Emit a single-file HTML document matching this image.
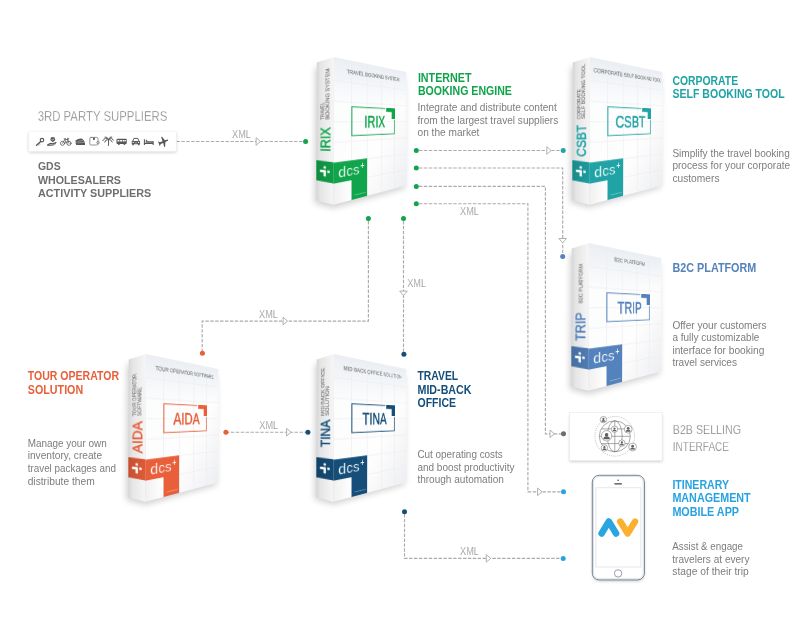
<!DOCTYPE html>
<html><head><meta charset="utf-8"><title>dcs plus product diagram</title>
<style>
html,body{margin:0;padding:0;background:#fff}
body{width:812px;height:631px;position:relative;overflow:hidden;font-family:"Liberation Sans", sans-serif}
#main{position:absolute;left:0;top:0;will-change:transform}
.box{position:absolute;width:0;height:0}
.face{position:absolute;left:0;top:0;transform-origin:0 0;overflow:hidden}
.face svg{display:block}
</style></head><body>
<svg id="main" width="812" height="631" viewBox="0 0 812 631" font-family='"Liberation Sans", sans-serif'><defs><filter id="blur" x="-20%" y="-20%" width="140%" height="140%"><feGaussianBlur stdDeviation="3"/></filter><filter id="blur2" x="-20%" y="-40%" width="140%" height="180%"><feGaussianBlur stdDeviation="1.6"/></filter></defs>
<polygon points="315.4,67.2 404.4,77.2 404.9,188.2 333.5,208.2 314.4,203.2" fill="#000" opacity="0.18" filter="url(#blur)"/>
<polygon points="571.1,66.6 660.1,76.6 660.6,187.6 589.2,207.6 570.1,202.6" fill="#000" opacity="0.18" filter="url(#blur)"/>
<polygon points="570.3,253.2 659.3,263.2 659.8,374.2 588.4,394.2 569.3,389.2" fill="#000" opacity="0.18" filter="url(#blur)"/>
<polygon points="127.1,364.0 216.1,374.0 216.6,485.0 145.2,505.0 126.1,500.0" fill="#000" opacity="0.18" filter="url(#blur)"/>
<polygon points="315.4,363.5 404.4,373.5 404.9,484.5 333.5,504.5 314.4,499.5" fill="#000" opacity="0.18" filter="url(#blur)"/>
<path d="M176.5 141.5H303" fill="none" stroke="#ababab" stroke-width="1.15" stroke-dasharray="3.4 1.5"/>
<path d="M256.1 137.7L260.5 141.5L256.1 145.3Z" fill="#fff" stroke="#a9a9a9" stroke-width="0.9"/>
<text x="232.00" y="137.70" font-size="10.3" fill="#7e7e7e" textLength="18.90" lengthAdjust="spacingAndGlyphs" stroke="#fff" stroke-width="0.25">XML</text>
<circle cx="305.6" cy="141.5" r="2.5" fill="#10a54b"/>
<path d="M368.4 221V321.1H202.2V351" fill="none" stroke="#ababab" stroke-width="1.15" stroke-dasharray="3.4 1.5"/>
<path d="M283.1 317.3L287.5 321.1L283.1 324.90000000000003Z" fill="#fff" stroke="#a9a9a9" stroke-width="0.9"/>
<text x="259.00" y="317.50" font-size="10.3" fill="#7e7e7e" textLength="18.90" lengthAdjust="spacingAndGlyphs" stroke="#fff" stroke-width="0.25">XML</text>
<circle cx="368.4" cy="218.5" r="2.5" fill="#10a54b"/>
<circle cx="202.4" cy="353.2" r="2.5" fill="#e85f3a"/>
<path d="M403.5 221V352" fill="none" stroke="#ababab" stroke-width="1.15" stroke-dasharray="3.4 1.5"/>
<path d="M399.7 291.1L403.5 295.5L407.3 291.1Z" fill="#fff" stroke="#a9a9a9" stroke-width="0.9"/>
<text x="407.20" y="286.90" font-size="10.3" fill="#7e7e7e" textLength="18.90" lengthAdjust="spacingAndGlyphs" stroke="#fff" stroke-width="0.25">XML</text>
<circle cx="403.5" cy="218.5" r="2.5" fill="#10a54b"/>
<circle cx="403.9" cy="354.3" r="2.5" fill="#144e79"/>
<path d="M419 150.5H561" fill="none" stroke="#ababab" stroke-width="1.15" stroke-dasharray="3.4 1.5"/>
<path d="M546.8000000000001 146.7L551.2 150.5L546.8000000000001 154.3Z" fill="#fff" stroke="#a9a9a9" stroke-width="0.9"/>
<circle cx="416.3" cy="150.5" r="2.5" fill="#10a54b"/>
<circle cx="563.2" cy="150.5" r="2.5" fill="#1fa3a4"/>
<path d="M419 168H562.7V254" fill="none" stroke="#ababab" stroke-width="1.15" stroke-dasharray="3.4 1.5"/>
<path d="M558.9000000000001 238.5L562.7 242.9L566.5 238.5Z" fill="#fff" stroke="#a9a9a9" stroke-width="0.9"/>
<circle cx="416.3" cy="168" r="2.5" fill="#10a54b"/>
<circle cx="562.7" cy="256.5" r="2.5" fill="#5382bc"/>
<path d="M419 186.4H545.4V433.8H561" fill="none" stroke="#ababab" stroke-width="1.15" stroke-dasharray="3.4 1.5"/>
<path d="M550.0 430.0L554.4 433.8L550.0 437.6Z" fill="#fff" stroke="#a9a9a9" stroke-width="0.9"/>
<circle cx="416.3" cy="186.4" r="2.5" fill="#10a54b"/>
<circle cx="563.5" cy="433.8" r="2.5" fill="#6b6b6b"/>
<path d="M419 203.7H527.9V491.8H561" fill="none" stroke="#ababab" stroke-width="1.15" stroke-dasharray="3.4 1.5"/>
<path d="M537.6 488.0L542.0 491.8L537.6 495.6Z" fill="#fff" stroke="#a9a9a9" stroke-width="0.9"/>
<text x="460.00" y="214.60" font-size="10.3" fill="#7e7e7e" textLength="18.90" lengthAdjust="spacingAndGlyphs" stroke="#fff" stroke-width="0.25">XML</text>
<circle cx="416.3" cy="203.7" r="2.5" fill="#10a54b"/>
<circle cx="563.5" cy="491.8" r="2.5" fill="#27a3e1"/>
<path d="M226 432.2H306" fill="none" stroke="#ababab" stroke-width="1.15" stroke-dasharray="3.4 1.5"/>
<path d="M286.6 428.4L291.0 432.2L286.6 436.0Z" fill="#fff" stroke="#a9a9a9" stroke-width="0.9"/>
<text x="259.30" y="429.00" font-size="10.3" fill="#7e7e7e" textLength="18.90" lengthAdjust="spacingAndGlyphs" stroke="#fff" stroke-width="0.25">XML</text>
<circle cx="225.9" cy="432.2" r="2.5" fill="#e85f3a"/>
<circle cx="307.9" cy="432.2" r="2.5" fill="#144e79"/>
<path d="M404.5 514V558.4H561" fill="none" stroke="#ababab" stroke-width="1.15" stroke-dasharray="3.4 1.5"/>
<path d="M486.3 554.6L490.7 558.4L486.3 562.1999999999999Z" fill="#fff" stroke="#a9a9a9" stroke-width="0.9"/>
<text x="460.00" y="555.20" font-size="10.3" fill="#7e7e7e" textLength="18.90" lengthAdjust="spacingAndGlyphs" stroke="#fff" stroke-width="0.25">XML</text>
<circle cx="404.5" cy="511.7" r="2.5" fill="#144e79"/>
<circle cx="563.2" cy="558.4" r="2.5" fill="#27a3e1"/>
<text x="37.70" y="120.80" font-size="14.3" fill="#7b7b7b" textLength="129.60" lengthAdjust="spacingAndGlyphs" stroke="#fff" stroke-width="0.35">3RD PARTY SUPPLIERS</text>
<rect x="28.6" y="133" width="147.8" height="19.6" rx="1.5" fill="#000" opacity="0.2" filter="url(#blur2)"/>
<rect x="28.6" y="131.2" width="147.8" height="20.4" rx="1" fill="#fff" stroke="#ececec" stroke-width="0.6"/>
<text x="38.00" y="170.30" font-size="11.8" fill="#6e6e6e" font-weight="bold" textLength="22.60" lengthAdjust="spacingAndGlyphs">GDS</text>
<text x="38.00" y="183.80" font-size="11.8" fill="#6e6e6e" font-weight="bold" textLength="83.00" lengthAdjust="spacingAndGlyphs">WHOLESALERS</text>
<text x="38.00" y="197.30" font-size="11.8" fill="#6e6e6e" font-weight="bold" textLength="113.30" lengthAdjust="spacingAndGlyphs">ACTIVITY SUPPLIERS</text>
<text x="417.90" y="82.05" font-size="12.2" fill="#10a54b" font-weight="bold" textLength="53.60" lengthAdjust="spacingAndGlyphs">INTERNET</text><text x="417.90" y="95.35" font-size="12.2" fill="#10a54b" font-weight="bold" textLength="94.00" lengthAdjust="spacingAndGlyphs">BOOKING ENGINE</text>
<text x="417.50" y="111.20" font-size="10.7" fill="#7d7d7d" textLength="139.30" lengthAdjust="spacingAndGlyphs">Integrate and distribute content</text><text x="417.50" y="123.82" font-size="10.7" fill="#7d7d7d" textLength="140.70" lengthAdjust="spacingAndGlyphs">from the largest travel suppliers</text><text x="417.50" y="136.44" font-size="10.7" fill="#7d7d7d" textLength="61.90" lengthAdjust="spacingAndGlyphs">on the market</text>
<text x="672.50" y="84.75" font-size="12.2" fill="#1fa3a4" font-weight="bold" textLength="65.60" lengthAdjust="spacingAndGlyphs">CORPORATE</text><text x="672.50" y="98.05" font-size="12.2" fill="#1fa3a4" font-weight="bold" textLength="112.20" lengthAdjust="spacingAndGlyphs">SELF BOOKING TOOL</text>
<text x="672.40" y="156.80" font-size="10.7" fill="#7d7d7d" textLength="117.40" lengthAdjust="spacingAndGlyphs">Simplify the travel booking</text><text x="672.40" y="169.42" font-size="10.7" fill="#7d7d7d" textLength="117.80" lengthAdjust="spacingAndGlyphs">process for your corporate</text><text x="672.40" y="182.04" font-size="10.7" fill="#7d7d7d" textLength="47.10" lengthAdjust="spacingAndGlyphs">customers</text>
<text x="672.50" y="272.45" font-size="12.2" fill="#5382bc" font-weight="bold" textLength="83.80" lengthAdjust="spacingAndGlyphs">B2C PLATFORM</text>
<text x="672.40" y="328.60" font-size="10.7" fill="#7d7d7d" textLength="94.10" lengthAdjust="spacingAndGlyphs">Offer your customers</text><text x="672.40" y="341.22" font-size="10.7" fill="#7d7d7d" textLength="87.00" lengthAdjust="spacingAndGlyphs">a fully customizable</text><text x="672.40" y="353.84" font-size="10.7" fill="#7d7d7d" textLength="91.90" lengthAdjust="spacingAndGlyphs">interface for booking</text><text x="672.40" y="366.46" font-size="10.7" fill="#7d7d7d" textLength="64.60" lengthAdjust="spacingAndGlyphs">travel services</text>
<text x="672.80" y="434.30" font-size="12.6" fill="#787878" textLength="68.20" lengthAdjust="spacingAndGlyphs" stroke="#fff" stroke-width="0.25">B2B SELLING</text>
<text x="672.80" y="450.90" font-size="12.6" fill="#787878" textLength="56.20" lengthAdjust="spacingAndGlyphs" stroke="#fff" stroke-width="0.25">INTERFACE</text>
<text x="672.40" y="488.95" font-size="12.2" fill="#27a3e1" font-weight="bold" textLength="56.60" lengthAdjust="spacingAndGlyphs">ITINERARY</text><text x="672.40" y="502.25" font-size="12.2" fill="#27a3e1" font-weight="bold" textLength="78.30" lengthAdjust="spacingAndGlyphs">MANAGEMENT</text><text x="672.40" y="515.55" font-size="12.2" fill="#27a3e1" font-weight="bold" textLength="66.60" lengthAdjust="spacingAndGlyphs">MOBILE APP</text>
<text x="672.30" y="550.20" font-size="10.7" fill="#7d7d7d" textLength="70.70" lengthAdjust="spacingAndGlyphs">Assist &amp; engage</text><text x="672.30" y="562.82" font-size="10.7" fill="#7d7d7d" textLength="77.20" lengthAdjust="spacingAndGlyphs">travelers at every</text><text x="672.30" y="575.44" font-size="10.7" fill="#7d7d7d" textLength="76.40" lengthAdjust="spacingAndGlyphs">stage of their trip</text>
<text x="27.80" y="380.25" font-size="12.2" fill="#e85f3a" font-weight="bold" textLength="91.30" lengthAdjust="spacingAndGlyphs">TOUR OPERATOR</text><text x="27.80" y="393.55" font-size="12.2" fill="#e85f3a" font-weight="bold" textLength="55.40" lengthAdjust="spacingAndGlyphs">SOLUTION</text>
<text x="27.70" y="446.80" font-size="10.7" fill="#7d7d7d" textLength="79.00" lengthAdjust="spacingAndGlyphs">Manage your own</text><text x="27.70" y="459.42" font-size="10.7" fill="#7d7d7d" textLength="74.40" lengthAdjust="spacingAndGlyphs">inventory, create</text><text x="27.70" y="472.04" font-size="10.7" fill="#7d7d7d" textLength="88.30" lengthAdjust="spacingAndGlyphs">travel packages and</text><text x="27.70" y="484.66" font-size="10.7" fill="#7d7d7d" textLength="67.00" lengthAdjust="spacingAndGlyphs">distribute them</text>
<text x="417.50" y="380.25" font-size="12.2" fill="#144e79" font-weight="bold" textLength="40.70" lengthAdjust="spacingAndGlyphs">TRAVEL</text><text x="417.50" y="393.55" font-size="12.2" fill="#144e79" font-weight="bold" textLength="54.00" lengthAdjust="spacingAndGlyphs">MID-BACK</text><text x="417.50" y="406.85" font-size="12.2" fill="#144e79" font-weight="bold" textLength="38.50" lengthAdjust="spacingAndGlyphs">OFFICE</text>
<text x="417.40" y="457.90" font-size="10.7" fill="#7d7d7d" textLength="85.40" lengthAdjust="spacingAndGlyphs">Cut operating costs</text><text x="417.40" y="470.52" font-size="10.7" fill="#7d7d7d" textLength="97.20" lengthAdjust="spacingAndGlyphs">and boost productivity</text><text x="417.40" y="483.14" font-size="10.7" fill="#7d7d7d" textLength="86.50" lengthAdjust="spacingAndGlyphs">through automation</text>
<rect x="569.6" y="415" width="92.6" height="46.8" fill="#000" opacity="0.2" filter="url(#blur2)"/>
<rect x="569.5" y="412.4" width="92.7" height="48.2" fill="#fff" stroke="#e9e9e9" stroke-width="0.6"/>
<g fill="none" stroke="#707070" stroke-width=".6"><circle cx="614.8" cy="436.3" r="19.8" stroke-dasharray=".9 1.2" stroke="#8a8a8a"/><circle cx="614.8" cy="436.3" r="15.5" fill="#fff"/><ellipse cx="614.8" cy="436.3" rx="7.4" ry="15.5"/><path d="M614.8 420.8V451.8M599.3 436.3H630.3M601.1999999999999 428.9H628.4M601.1999999999999 443.6H628.4"/></g><circle cx="603.4" cy="419.6" r="3.2" fill="#fff" stroke="#707070" stroke-width=".55"/><circle cx="603.4" cy="418.90" r="1.09" fill="#606060"/><path d="M601.42 421.71q0-1.76 1.98-1.76q1.98 0 1.98 1.76z" fill="#606060"/><circle cx="614.5" cy="429.2" r="3.2" fill="#fff" stroke="#707070" stroke-width=".55"/><circle cx="614.5" cy="428.50" r="1.09" fill="#606060"/><path d="M612.52 431.31q0-1.76 1.98-1.76q1.98 0 1.98 1.76z" fill="#606060"/><circle cx="628.2" cy="429.2" r="3.9" fill="#fff" stroke="#707070" stroke-width=".55"/><circle cx="628.2" cy="428.34" r="1.33" fill="#606060"/><path d="M625.78 431.77q0-2.15 2.42-2.15q2.42 0 2.42 2.15z" fill="#606060"/><circle cx="606.6" cy="435.8" r="5.2" fill="#fff" stroke="#707070" stroke-width=".55"/><circle cx="606.6" cy="434.66" r="1.77" fill="#606060"/><path d="M603.38 439.23q0-2.86 3.22-2.86q3.22 0 3.22 2.86z" fill="#606060"/><circle cx="621.9" cy="443.1" r="3.2" fill="#fff" stroke="#707070" stroke-width=".55"/><circle cx="621.9" cy="442.40" r="1.09" fill="#606060"/><path d="M619.92 445.21q0-1.76 1.98-1.76q1.98 0 1.98 1.76z" fill="#606060"/><circle cx="604.4" cy="447.9" r="3.2" fill="#fff" stroke="#707070" stroke-width=".55"/><circle cx="604.4" cy="447.20" r="1.09" fill="#606060"/><path d="M602.42 450.01q0-1.76 1.98-1.76q1.98 0 1.98 1.76z" fill="#606060"/><circle cx="632.6" cy="447.0" r="3.9" fill="#fff" stroke="#707070" stroke-width=".55"/><circle cx="632.6" cy="446.14" r="1.33" fill="#606060"/><path d="M630.18 449.57q0-2.15 2.42-2.15q2.42 0 2.42 2.15z" fill="#606060"/>
<rect x="592.6" y="476.6" width="51.8" height="104.6" rx="7" fill="#000" opacity=".22" filter="url(#blur2)"/><rect x="592.3" y="475.3" width="52.1" height="104.6" rx="6.8" fill="#fff" stroke="#56647a" stroke-width=".8"/><rect x="593.5" y="476.5" width="49.7" height="102.2" rx="5.6" fill="none" stroke="#c9cfd8" stroke-width=".6"/><rect x="595.9" y="487.8" width="44.9" height="79.2" fill="#fff" stroke="#dcdcdc" stroke-width=".7"/><rect x="614.2" y="483.2" width="7.8" height="1.3" rx=".65" fill="#3c4656"/><circle cx="618.1" cy="480.2" r=".75" fill="#3c4656"/><circle cx="618.1" cy="573.4" r="3.7" fill="#fff" stroke="#6b7686" stroke-width=".7"/><path d="M601.6 533.5L608.8 521.5L616.1 533.5" fill="none" stroke="#2aa5e0" stroke-width="6.5" stroke-linecap="round" stroke-linejoin="round"/><path d="M620.3 521.6L627.7 533.4L635 521.6" fill="none" stroke="#fbb030" stroke-width="6.5" stroke-linecap="round" stroke-linejoin="round"/>
<g fill="none" stroke="#575757" stroke-linecap="round" stroke-linejoin="round"><circle cx="42" cy="140.1" r="1.75" stroke-width="1.15"/><path d="M40.7 141.5L36.5 145.3" stroke-width="1.35"/><path d="M37.7 144.3l.8 .9M38.8 143.3l.8 .9" stroke-width=".7"/><path d="M52.8 136.9a2.45 2.45 0 0 1 2.45 2.45c0 1.4-1.5 2.1-2.45 2.9c-.95-.8-2.45-1.5-2.45-2.9a2.45 2.45 0 0 1 2.45-2.45z" fill="#575757" stroke="none"/><path d="M51.7 139.3l.9 .9l1.4-1.5" stroke="#fff" stroke-width=".6"/><path d="M47.6 145.1L50.2 143.5L53 143.9L55.9 142.5" stroke-width="1.35"/><path d="M48.6 145.6L53.2 145.2L55.6 143.6" stroke-width=".8"/><circle cx="62.5" cy="143.3" r="2.05" stroke-width=".8"/><circle cx="69" cy="143.3" r="2.05" stroke-width=".8"/><path d="M62.5 143.3L64.9 139.5H67.9L69 143.3M64.9 139.5L66 143.3L67.9 139.5M64.1 138.7H65.7M67.4 138.4H68.7L67.9 139.5" stroke-width=".75"/><path d="M108.5 140.6Q108.9 143 108.4 145.5" stroke-width="1"/><path d="M108.5 139.4Q105.2 136.3 102.8 140.7M108.5 139.6Q105.8 138.6 104.7 142.2M108.5 139.3Q107.2 136.4 105 137M108.5 139.4Q111.8 136.3 113.2 140.2M108.5 139.6Q111.2 138.8 112.2 142M108.5 139.3Q109.8 136.2 111.8 136.9" stroke-width=".95"/><path d="M144.4 139.2V144.9M144.4 143.4H153.2M153.2 141.2V144.9" stroke-width="1.05" stroke-linecap="butt"/><path d="M145.6 142H153" stroke-width="1.5" stroke-linecap="butt"/><circle cx="146.5" cy="140.5" r=".75" fill="#575757" stroke="none"/><rect x="89.8" y="137.4" width="8.2" height="7.6" rx="1.3" stroke-width=".7" stroke="#6a6a6a"/><path d="M132.8 141.2L133.9 138.4H137.9L139 141.2" stroke-width=".95"/></g><g fill="#575757"><path d="M74.9 140.9Q79.5 137.8 82.2 138.8Q84.2 140.2 85 143.2V145.1H76.3L75.3 142.5L77 142.2z"/><path d="M77.6 141.4L83.2 140.3M77.4 142.9L84.2 142.2" stroke="#fff" stroke-width=".35"/><rect x="93.1" y="137.4" width="1.7" height="2.6"/><circle cx="98.1" cy="142.6" r="1.7" fill="#fff"/><circle cx="98.1" cy="142.6" r="1.25" fill="none" stroke="#575757" stroke-width=".7"/><circle cx="98.1" cy="142.6" r=".45"/><rect x="116.5" y="138.8" width="10.3" height="5.2" rx="1.1"/><circle cx="118.9" cy="144.1" r=".95"/><circle cx="124.4" cy="144.1" r=".95"/><path d="M117.5 140h1.9v1.6h-1.9zM120.1 140h1.9v1.6h-1.9zM122.7 140h1.9v1.6h-1.9zM125.2 140h.9v1.6h-.9z" fill="#fff"/><rect x="131.7" y="140.9" width="8.4" height="3.4" rx=".9"/><rect x="132.2" y="144" width="1.6" height="1.3" rx=".3"/><rect x="138" y="144" width="1.6" height="1.3" rx=".3"/><circle cx="133.2" cy="142.4" r=".6" fill="#fff"/><circle cx="138.6" cy="142.4" r=".6" fill="#fff"/><path d="M134.6 142.9h2.6" stroke="#fff" stroke-width=".5"/><path d="M167.7 139.5L164.9 140.3L162 136.8L161.1 137.1L162.6 141.3L159.9 142.3L158.7 141.4L158 141.8L158.9 143.6L159.5 145.9L160.2 145.6L160.6 143.9L163.2 142.9L164.2 146.9L165.1 146.7L165.4 142L167.9 140.7Q168.6 139.6 167.7 139.5z"/></g></svg>
<div class="box" style="left:333.9px;top:57.2px"><div class="face" style="width:19px;height:147px;transform:matrix3d(0.91052632,-0.28947368,0,-0.0034786532,-0.0025214668,0.93168198,0,-4.9432232e-05,0,0,1,0,-17.3,5.5,0,1)"><svg width="19" height="147" viewBox="0 0 19 147" font-family='"Liberation Sans", sans-serif'><defs><linearGradient id="sfg0" x1="0" y1="0" x2="1" y2="0"><stop offset="0" stop-color="#d6d6d7"/><stop offset="0.25" stop-color="#e5e5e6"/><stop offset="1" stop-color="#f6f6f7"/></linearGradient><linearGradient id="sgg0" x1="0" y1="0" x2="1" y2="0"><stop offset="0" stop-color="#000" stop-opacity="0.16"/><stop offset="1" stop-color="#000" stop-opacity="0.04"/></linearGradient></defs><rect width="19" height="147" fill="url(#sfg0)"/><path d="M0 104.3L19 104.9V126.1L0 125.6Z" fill="#10a54b"/><path d="M0 104.3L19 104.9V126.1L0 125.6Z" fill="url(#sgg0)"/><g fill="#fff" transform="translate(4.2 109.8) scale(1.8909090909090909)"><rect x="2.2" y="0" width="1.3" height="1.3"/><path d="M0 2.1H3.5V5.5H2.2V3.4H0Z"/><rect x="4.3" y="2.1" width="1.3" height="1.3"/></g><text x="0.00" y="0.00" font-size="15" fill="#10a54b" textLength="25.10" lengthAdjust="spacingAndGlyphs" transform="translate(15.2 94.9) rotate(-90)" stroke="#10a54b" stroke-width="0.5">IRIX</text><text x="0.00" y="0.00" font-size="5.9" fill="#6c6c6c" textLength="18.20" lengthAdjust="spacingAndGlyphs" transform="translate(8.6 61.9) rotate(-90)" stroke="#6c6c6c" stroke-width="0.08">TRAVEL</text><text x="0.00" y="0.00" font-size="5.9" fill="#6c6c6c" textLength="52.00" lengthAdjust="spacingAndGlyphs" transform="translate(14.3 61.9) rotate(-90)" stroke="#6c6c6c" stroke-width="0.08">BOOKING SYSTEM</text></svg></div><div class="face" style="width:103px;height:147px;transform:matrix3d(0.91282461,0.1893827,0,0.0029167755,-0.0027109703,1.0017035,0,-2.5295367e-05,0,0,1,0,0,0,0,1)"><svg width="103" height="147" viewBox="0 0 103 147" font-family='"Liberation Sans", sans-serif'><defs><linearGradient id="ffg0" x1="0" y1="0" x2="1" y2="1"><stop offset="0" stop-color="#fbfcfd"/><stop offset="0.6" stop-color="#fefefe"/><stop offset="1" stop-color="#edeef1"/></linearGradient><linearGradient id="fcg0" x1="0" y1="0" x2="1" y2="0"><stop offset="0" stop-color="#f1f1f2"/><stop offset="1" stop-color="#ffffff"/></linearGradient></defs><rect width="103" height="147" fill="url(#ffg0)"/><linearGradient id="ftg0" x1="0" y1="0" x2="0" y2="1"><stop offset="0" stop-color="#e9edf2" stop-opacity="0.9"/><stop offset="1" stop-color="#e9edf2" stop-opacity="0"/></linearGradient><rect width="103" height="46" fill="url(#ftg0)"/><path d="M20.6 0V147 M41.2 0V147 M61.8 0V147 M82.4 0V147 M0 126.4H103 M0 105.8H103 M0 85.2H103 M0 64.6H103 M0 44.0H103 M0 23.4H103 M0 2.8H103" stroke="#ecedf1" stroke-width="0.7" fill="none"/><text x="52.60" y="14.00" font-size="6.3" fill="#707070" text-anchor="middle" textLength="76.16" lengthAdjust="spacingAndGlyphs" transform="rotate(-0.6 52.6 14)" stroke="#707070" stroke-width="0.08">TRAVEL BOOKING SYSTEM</text><path d="M67.2 48.7H20.9V79.3H82.2V62.2" fill="none" stroke="#10a54b" stroke-width="1.1"/><path d="M68.7 48.1H83.0V60.900000000000006H77.60000000000001V52.7H68.7Z" fill="#10a54b"/><text x="52.00" y="70.90" font-size="18.6" fill="#10a54b" text-anchor="middle" textLength="29.80" lengthAdjust="spacingAndGlyphs" stroke="#10a54b" stroke-width="0.55">IRIX</text><path d="M0 105.3H41V147H20.4V126.3H0Z" fill="#10a54b"/><rect x="0" y="126.3" width="20.4" height="20.7" fill="url(#fcg0)"/><text x="5.10" y="121.00" font-size="15.2" fill="#ffffff" textLength="25.80" lengthAdjust="spacingAndGlyphs" stroke="#10a54b" stroke-width="0.22">dcs</text><text x="31.60" y="116.00" font-size="10" fill="#ffffff">+</text><text x="24.60" y="142.60" font-size="2.2" fill="#ffffff" textLength="14.00" lengthAdjust="spacingAndGlyphs" opacity="0.75">www.dcsplus.net</text></svg></div></div><div class="box" style="left:589.6px;top:56.6px"><div class="face" style="width:19px;height:147px;transform:matrix3d(0.91052632,-0.28947368,0,-0.0034786532,-0.0025214668,0.93168198,0,-4.9432232e-05,0,0,1,0,-17.3,5.5,0,1)"><svg width="19" height="147" viewBox="0 0 19 147" font-family='"Liberation Sans", sans-serif'><defs><linearGradient id="sfg1" x1="0" y1="0" x2="1" y2="0"><stop offset="0" stop-color="#d6d6d7"/><stop offset="0.25" stop-color="#e5e5e6"/><stop offset="1" stop-color="#f6f6f7"/></linearGradient><linearGradient id="sgg1" x1="0" y1="0" x2="1" y2="0"><stop offset="0" stop-color="#000" stop-opacity="0.16"/><stop offset="1" stop-color="#000" stop-opacity="0.04"/></linearGradient></defs><rect width="19" height="147" fill="url(#sfg1)"/><path d="M0 104.3L19 104.9V126.1L0 125.6Z" fill="#1fa3a4"/><path d="M0 104.3L19 104.9V126.1L0 125.6Z" fill="url(#sgg1)"/><g fill="#fff" transform="translate(4.2 109.8) scale(1.8909090909090909)"><rect x="2.2" y="0" width="1.3" height="1.3"/><path d="M0 2.1H3.5V5.5H2.2V3.4H0Z"/><rect x="4.3" y="2.1" width="1.3" height="1.3"/></g><text x="0.00" y="0.00" font-size="15" fill="#1fa3a4" textLength="32.50" lengthAdjust="spacingAndGlyphs" transform="translate(15.2 99.9) rotate(-90)" stroke="#1fa3a4" stroke-width="0.5">CSBT</text><text x="0.00" y="0.00" font-size="5.9" fill="#6c6c6c" textLength="31.30" lengthAdjust="spacingAndGlyphs" transform="translate(8.6 61.5) rotate(-90)" stroke="#6c6c6c" stroke-width="0.08">CORPORATE</text><text x="0.00" y="0.00" font-size="5.9" fill="#6c6c6c" textLength="56.40" lengthAdjust="spacingAndGlyphs" transform="translate(14.3 61.5) rotate(-90)" stroke="#6c6c6c" stroke-width="0.08">SELF BOOKING TOOL</text></svg></div><div class="face" style="width:103px;height:147px;transform:matrix3d(0.91282461,0.1893827,0,0.0029167755,-0.0027109703,1.0017035,0,-2.5295367e-05,0,0,1,0,0,0,0,1)"><svg width="103" height="147" viewBox="0 0 103 147" font-family='"Liberation Sans", sans-serif'><defs><linearGradient id="ffg1" x1="0" y1="0" x2="1" y2="1"><stop offset="0" stop-color="#fbfcfd"/><stop offset="0.6" stop-color="#fefefe"/><stop offset="1" stop-color="#edeef1"/></linearGradient><linearGradient id="fcg1" x1="0" y1="0" x2="1" y2="0"><stop offset="0" stop-color="#f1f1f2"/><stop offset="1" stop-color="#ffffff"/></linearGradient></defs><rect width="103" height="147" fill="url(#ffg1)"/><linearGradient id="ftg1" x1="0" y1="0" x2="0" y2="1"><stop offset="0" stop-color="#e9edf2" stop-opacity="0.9"/><stop offset="1" stop-color="#e9edf2" stop-opacity="0"/></linearGradient><rect width="103" height="46" fill="url(#ftg1)"/><path d="M20.6 0V147 M41.2 0V147 M61.8 0V147 M82.4 0V147 M0 126.4H103 M0 105.8H103 M0 85.2H103 M0 64.6H103 M0 44.0H103 M0 23.4H103 M0 2.8H103" stroke="#ecedf1" stroke-width="0.7" fill="none"/><text x="52.60" y="14.00" font-size="6.3" fill="#707070" text-anchor="middle" textLength="97.37" lengthAdjust="spacingAndGlyphs" transform="rotate(-0.6 52.6 14)" stroke="#707070" stroke-width="0.08">CORPORATE SELF BOOKING TOOL</text><path d="M67.2 48.7H20.9V79.3H82.2V62.2" fill="none" stroke="#1fa3a4" stroke-width="1.1"/><path d="M68.7 48.1H83.0V60.900000000000006H77.60000000000001V52.7H68.7Z" fill="#1fa3a4"/><text x="52.00" y="70.90" font-size="18.6" fill="#1fa3a4" text-anchor="middle" textLength="43.20" lengthAdjust="spacingAndGlyphs" stroke="#1fa3a4" stroke-width="0.55">CSBT</text><path d="M0 105.3H41V147H20.4V126.3H0Z" fill="#1fa3a4"/><rect x="0" y="126.3" width="20.4" height="20.7" fill="url(#fcg1)"/><text x="5.10" y="121.00" font-size="15.2" fill="#ffffff" textLength="25.80" lengthAdjust="spacingAndGlyphs" stroke="#1fa3a4" stroke-width="0.22">dcs</text><text x="31.60" y="116.00" font-size="10" fill="#ffffff">+</text><text x="24.60" y="142.60" font-size="2.2" fill="#ffffff" textLength="14.00" lengthAdjust="spacingAndGlyphs" opacity="0.75">www.dcsplus.net</text></svg></div></div><div class="box" style="left:588.8px;top:243.2px"><div class="face" style="width:19px;height:147px;transform:matrix3d(0.91052632,-0.28947368,0,-0.0034786532,-0.0025214668,0.93168198,0,-4.9432232e-05,0,0,1,0,-17.3,5.5,0,1)"><svg width="19" height="147" viewBox="0 0 19 147" font-family='"Liberation Sans", sans-serif'><defs><linearGradient id="sfg2" x1="0" y1="0" x2="1" y2="0"><stop offset="0" stop-color="#d6d6d7"/><stop offset="0.25" stop-color="#e5e5e6"/><stop offset="1" stop-color="#f6f6f7"/></linearGradient><linearGradient id="sgg2" x1="0" y1="0" x2="1" y2="0"><stop offset="0" stop-color="#000" stop-opacity="0.16"/><stop offset="1" stop-color="#000" stop-opacity="0.04"/></linearGradient></defs><rect width="19" height="147" fill="url(#sfg2)"/><path d="M0 104.3L19 104.9V126.1L0 125.6Z" fill="#5382bc"/><path d="M0 104.3L19 104.9V126.1L0 125.6Z" fill="url(#sgg2)"/><g fill="#fff" transform="translate(4.2 109.8) scale(1.8909090909090909)"><rect x="2.2" y="0" width="1.3" height="1.3"/><path d="M0 2.1H3.5V5.5H2.2V3.4H0Z"/><rect x="4.3" y="2.1" width="1.3" height="1.3"/></g><text x="0.00" y="0.00" font-size="15" fill="#5382bc" textLength="29.60" lengthAdjust="spacingAndGlyphs" transform="translate(15.2 98.3) rotate(-90)" stroke="#5382bc" stroke-width="0.5">TRIP</text><text x="0.00" y="0.00" font-size="5.9" fill="#6c6c6c" textLength="40.80" lengthAdjust="spacingAndGlyphs" transform="translate(12.4 59.7) rotate(-90)" stroke="#6c6c6c" stroke-width="0.08">B2C PLATFORM</text></svg></div><div class="face" style="width:103px;height:147px;transform:matrix3d(0.91282461,0.1893827,0,0.0029167755,-0.0027109703,1.0017035,0,-2.5295367e-05,0,0,1,0,0,0,0,1)"><svg width="103" height="147" viewBox="0 0 103 147" font-family='"Liberation Sans", sans-serif'><defs><linearGradient id="ffg2" x1="0" y1="0" x2="1" y2="1"><stop offset="0" stop-color="#fbfcfd"/><stop offset="0.6" stop-color="#fefefe"/><stop offset="1" stop-color="#edeef1"/></linearGradient><linearGradient id="fcg2" x1="0" y1="0" x2="1" y2="0"><stop offset="0" stop-color="#f1f1f2"/><stop offset="1" stop-color="#ffffff"/></linearGradient></defs><rect width="103" height="147" fill="url(#ffg2)"/><linearGradient id="ftg2" x1="0" y1="0" x2="0" y2="1"><stop offset="0" stop-color="#e9edf2" stop-opacity="0.9"/><stop offset="1" stop-color="#e9edf2" stop-opacity="0"/></linearGradient><rect width="103" height="46" fill="url(#ftg2)"/><path d="M20.6 0V147 M41.2 0V147 M61.8 0V147 M82.4 0V147 M0 126.4H103 M0 105.8H103 M0 85.2H103 M0 64.6H103 M0 44.0H103 M0 23.4H103 M0 2.8H103" stroke="#ecedf1" stroke-width="0.7" fill="none"/><text x="52.60" y="14.00" font-size="6.3" fill="#707070" text-anchor="middle" textLength="44.69" lengthAdjust="spacingAndGlyphs" transform="rotate(-0.6 52.6 14)" stroke="#707070" stroke-width="0.08">B2C PLATFORM</text><path d="M67.2 48.7H20.9V79.3H82.2V62.2" fill="none" stroke="#5382bc" stroke-width="1.1"/><path d="M68.7 48.1H83.0V60.900000000000006H77.60000000000001V52.7H68.7Z" fill="#5382bc"/><text x="52.00" y="70.90" font-size="18.6" fill="#5382bc" text-anchor="middle" textLength="35.00" lengthAdjust="spacingAndGlyphs" stroke="#5382bc" stroke-width="0.55">TRIP</text><path d="M0 105.3H41V147H20.4V126.3H0Z" fill="#5382bc"/><rect x="0" y="126.3" width="20.4" height="20.7" fill="url(#fcg2)"/><text x="5.10" y="121.00" font-size="15.2" fill="#ffffff" textLength="25.80" lengthAdjust="spacingAndGlyphs" stroke="#5382bc" stroke-width="0.22">dcs</text><text x="31.60" y="116.00" font-size="10" fill="#ffffff">+</text><text x="24.60" y="142.60" font-size="2.2" fill="#ffffff" textLength="14.00" lengthAdjust="spacingAndGlyphs" opacity="0.75">www.dcsplus.net</text></svg></div></div><div class="box" style="left:145.6px;top:354.0px"><div class="face" style="width:19px;height:147px;transform:matrix3d(0.91052632,-0.28947368,0,-0.0034786532,-0.0025214668,0.93168198,0,-4.9432232e-05,0,0,1,0,-17.3,5.5,0,1)"><svg width="19" height="147" viewBox="0 0 19 147" font-family='"Liberation Sans", sans-serif'><defs><linearGradient id="sfg3" x1="0" y1="0" x2="1" y2="0"><stop offset="0" stop-color="#d6d6d7"/><stop offset="0.25" stop-color="#e5e5e6"/><stop offset="1" stop-color="#f6f6f7"/></linearGradient><linearGradient id="sgg3" x1="0" y1="0" x2="1" y2="0"><stop offset="0" stop-color="#000" stop-opacity="0.16"/><stop offset="1" stop-color="#000" stop-opacity="0.04"/></linearGradient></defs><rect width="19" height="147" fill="url(#sfg3)"/><path d="M0 104.3L19 104.9V126.1L0 125.6Z" fill="#e85f3a"/><path d="M0 104.3L19 104.9V126.1L0 125.6Z" fill="url(#sgg3)"/><g fill="#fff" transform="translate(4.2 109.8) scale(1.8909090909090909)"><rect x="2.2" y="0" width="1.3" height="1.3"/><path d="M0 2.1H3.5V5.5H2.2V3.4H0Z"/><rect x="4.3" y="2.1" width="1.3" height="1.3"/></g><text x="0.00" y="0.00" font-size="15" fill="#e85f3a" textLength="32.60" lengthAdjust="spacingAndGlyphs" transform="translate(15.2 99.4) rotate(-90)" stroke="#e85f3a" stroke-width="0.5">AIDA</text><text x="0.00" y="0.00" font-size="5.9" fill="#6c6c6c" textLength="44.30" lengthAdjust="spacingAndGlyphs" transform="translate(8.6 61.4) rotate(-90)" stroke="#6c6c6c" stroke-width="0.08">TOUR OPERATOR</text><text x="0.00" y="0.00" font-size="5.9" fill="#6c6c6c" textLength="29.00" lengthAdjust="spacingAndGlyphs" transform="translate(14.3 61.4) rotate(-90)" stroke="#6c6c6c" stroke-width="0.08">SOFTWARE</text></svg></div><div class="face" style="width:103px;height:147px;transform:matrix3d(0.91282461,0.1893827,0,0.0029167755,-0.0027109703,1.0017035,0,-2.5295367e-05,0,0,1,0,0,0,0,1)"><svg width="103" height="147" viewBox="0 0 103 147" font-family='"Liberation Sans", sans-serif'><defs><linearGradient id="ffg3" x1="0" y1="0" x2="1" y2="1"><stop offset="0" stop-color="#fbfcfd"/><stop offset="0.6" stop-color="#fefefe"/><stop offset="1" stop-color="#edeef1"/></linearGradient><linearGradient id="fcg3" x1="0" y1="0" x2="1" y2="0"><stop offset="0" stop-color="#f1f1f2"/><stop offset="1" stop-color="#ffffff"/></linearGradient></defs><rect width="103" height="147" fill="url(#ffg3)"/><linearGradient id="ftg3" x1="0" y1="0" x2="0" y2="1"><stop offset="0" stop-color="#e9edf2" stop-opacity="0.9"/><stop offset="1" stop-color="#e9edf2" stop-opacity="0"/></linearGradient><rect width="103" height="46" fill="url(#ftg3)"/><path d="M20.6 0V147 M41.2 0V147 M61.8 0V147 M82.4 0V147 M0 126.4H103 M0 105.8H103 M0 85.2H103 M0 64.6H103 M0 44.0H103 M0 23.4H103 M0 2.8H103" stroke="#ecedf1" stroke-width="0.7" fill="none"/><text x="52.60" y="14.00" font-size="6.3" fill="#707070" text-anchor="middle" textLength="83.84" lengthAdjust="spacingAndGlyphs" transform="rotate(-0.6 52.6 14)" stroke="#707070" stroke-width="0.08">TOUR OPERATOR SOFTWARE</text><path d="M67.2 48.7H20.9V79.3H82.2V62.2" fill="none" stroke="#e85f3a" stroke-width="1.1"/><path d="M68.7 48.1H83.0V60.900000000000006H77.60000000000001V52.7H68.7Z" fill="#e85f3a"/><text x="52.00" y="70.90" font-size="18.6" fill="#e85f3a" text-anchor="middle" textLength="38.00" lengthAdjust="spacingAndGlyphs" stroke="#e85f3a" stroke-width="0.55">AIDA</text><path d="M0 105.3H41V147H20.4V126.3H0Z" fill="#e85f3a"/><rect x="0" y="126.3" width="20.4" height="20.7" fill="url(#fcg3)"/><text x="5.10" y="121.00" font-size="15.2" fill="#ffffff" textLength="25.80" lengthAdjust="spacingAndGlyphs" stroke="#e85f3a" stroke-width="0.22">dcs</text><text x="31.60" y="116.00" font-size="10" fill="#ffffff">+</text><text x="24.60" y="142.60" font-size="2.2" fill="#ffffff" textLength="14.00" lengthAdjust="spacingAndGlyphs" opacity="0.75">www.dcsplus.net</text></svg></div></div><div class="box" style="left:333.9px;top:353.5px"><div class="face" style="width:19px;height:147px;transform:matrix3d(0.91052632,-0.28947368,0,-0.0034786532,-0.0025214668,0.93168198,0,-4.9432232e-05,0,0,1,0,-17.3,5.5,0,1)"><svg width="19" height="147" viewBox="0 0 19 147" font-family='"Liberation Sans", sans-serif'><defs><linearGradient id="sfg4" x1="0" y1="0" x2="1" y2="0"><stop offset="0" stop-color="#d6d6d7"/><stop offset="0.25" stop-color="#e5e5e6"/><stop offset="1" stop-color="#f6f6f7"/></linearGradient><linearGradient id="sgg4" x1="0" y1="0" x2="1" y2="0"><stop offset="0" stop-color="#000" stop-opacity="0.16"/><stop offset="1" stop-color="#000" stop-opacity="0.04"/></linearGradient></defs><rect width="19" height="147" fill="url(#sfg4)"/><path d="M0 104.3L19 104.9V126.1L0 125.6Z" fill="#144e79"/><path d="M0 104.3L19 104.9V126.1L0 125.6Z" fill="url(#sgg4)"/><g fill="#fff" transform="translate(4.2 109.8) scale(1.8909090909090909)"><rect x="2.2" y="0" width="1.3" height="1.3"/><path d="M0 2.1H3.5V5.5H2.2V3.4H0Z"/><rect x="4.3" y="2.1" width="1.3" height="1.3"/></g><text x="0.00" y="0.00" font-size="15" fill="#144e79" textLength="27.70" lengthAdjust="spacingAndGlyphs" transform="translate(15.2 93.2) rotate(-90)" stroke="#144e79" stroke-width="0.5">TINA</text><text x="0.00" y="0.00" font-size="5.9" fill="#6c6c6c" textLength="50.00" lengthAdjust="spacingAndGlyphs" transform="translate(8.6 60.9) rotate(-90)" stroke="#6c6c6c" stroke-width="0.08">MID BACK OFFICE</text><text x="0.00" y="0.00" font-size="5.9" fill="#6c6c6c" textLength="30.00" lengthAdjust="spacingAndGlyphs" transform="translate(14.3 60.9) rotate(-90)" stroke="#6c6c6c" stroke-width="0.08">SOLUTION</text></svg></div><div class="face" style="width:103px;height:147px;transform:matrix3d(0.91282461,0.1893827,0,0.0029167755,-0.0027109703,1.0017035,0,-2.5295367e-05,0,0,1,0,0,0,0,1)"><svg width="103" height="147" viewBox="0 0 103 147" font-family='"Liberation Sans", sans-serif'><defs><linearGradient id="ffg4" x1="0" y1="0" x2="1" y2="1"><stop offset="0" stop-color="#fbfcfd"/><stop offset="0.6" stop-color="#fefefe"/><stop offset="1" stop-color="#edeef1"/></linearGradient><linearGradient id="fcg4" x1="0" y1="0" x2="1" y2="0"><stop offset="0" stop-color="#f1f1f2"/><stop offset="1" stop-color="#ffffff"/></linearGradient></defs><rect width="103" height="147" fill="url(#ffg4)"/><linearGradient id="ftg4" x1="0" y1="0" x2="0" y2="1"><stop offset="0" stop-color="#e9edf2" stop-opacity="0.9"/><stop offset="1" stop-color="#e9edf2" stop-opacity="0"/></linearGradient><rect width="103" height="46" fill="url(#ftg4)"/><path d="M20.6 0V147 M41.2 0V147 M61.8 0V147 M82.4 0V147 M0 126.4H103 M0 105.8H103 M0 85.2H103 M0 64.6H103 M0 44.0H103 M0 23.4H103 M0 2.8H103" stroke="#ecedf1" stroke-width="0.7" fill="none"/><text x="52.60" y="14.00" font-size="6.3" fill="#707070" text-anchor="middle" textLength="83.54" lengthAdjust="spacingAndGlyphs" transform="rotate(-0.6 52.6 14)" stroke="#707070" stroke-width="0.08">MID BACK OFFICE SOLUTION</text><path d="M67.2 48.7H20.9V79.3H82.2V62.2" fill="none" stroke="#144e79" stroke-width="1.1"/><path d="M68.7 48.1H83.0V60.900000000000006H77.60000000000001V52.7H68.7Z" fill="#144e79"/><text x="52.00" y="70.90" font-size="18.6" fill="#144e79" text-anchor="middle" textLength="34.80" lengthAdjust="spacingAndGlyphs" stroke="#144e79" stroke-width="0.55">TINA</text><path d="M0 105.3H41V147H20.4V126.3H0Z" fill="#144e79"/><rect x="0" y="126.3" width="20.4" height="20.7" fill="url(#fcg4)"/><text x="5.10" y="121.00" font-size="15.2" fill="#ffffff" textLength="25.80" lengthAdjust="spacingAndGlyphs" stroke="#144e79" stroke-width="0.22">dcs</text><text x="31.60" y="116.00" font-size="10" fill="#ffffff">+</text><text x="24.60" y="142.60" font-size="2.2" fill="#ffffff" textLength="14.00" lengthAdjust="spacingAndGlyphs" opacity="0.75">www.dcsplus.net</text></svg></div></div>
</body></html>
